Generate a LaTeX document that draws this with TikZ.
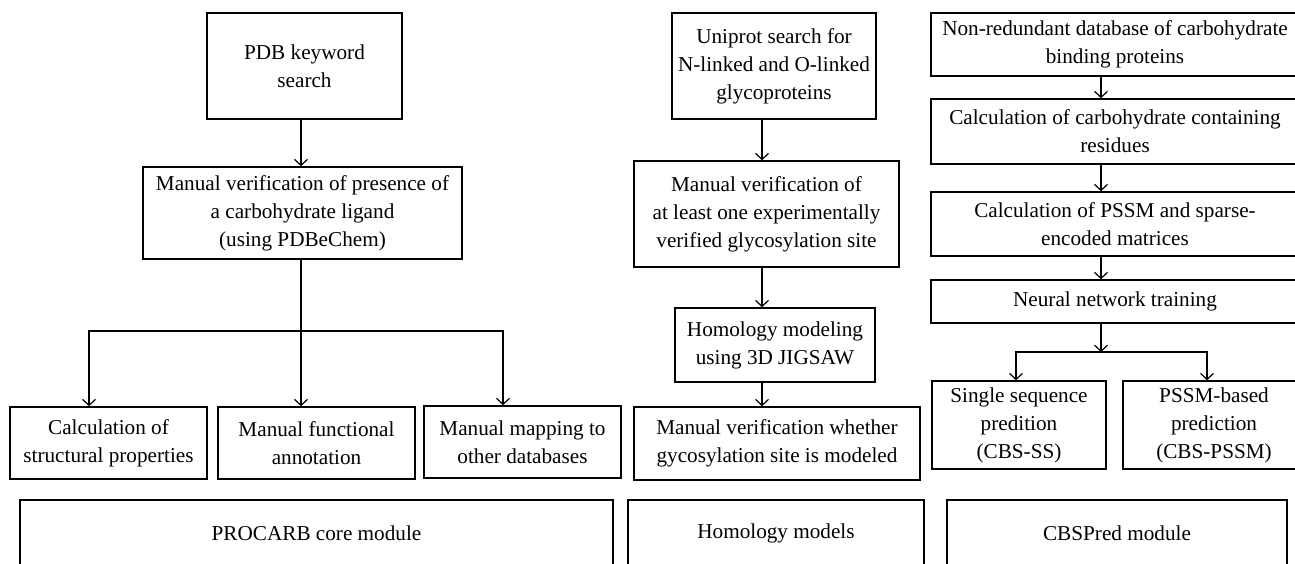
\documentclass[tikz,border=0pt]{standalone}
\usepackage{fontspec}
\setmainfont{Liberation Serif}
\usetikzlibrary{arrows.meta}

\begin{document}
\begin{tikzpicture}[x=0.5pt, y=-0.5pt, >={Straight Barb[length=3pt,width=6.5pt]},
		font=\fontsize{10.6}{14}\selectfont,
		box/.style={draw, line width=0.8pt, align=center, inner sep=0pt},
		link/.style={->, line width=0.6pt}]
		% Frame
		\useasboundingbox (0,0) rectangle (1295,563);
		\clip (0,0) rectangle (1295,563);

		% PROCARB core module
		\node[box, minimum width=97.5pt, minimum height=53pt] (pdb) at (304.5,66) {PDB keyword\\search};
		\node[box, minimum width=159.5pt, minimum height=46pt] (verif1) at (302.5,213) {Manual verification of presence of\\a carbohydrate ligand\\(using PDBeChem)};
		\node[box, minimum width=98.5pt, minimum height=36pt] (calc) at (108.5,443) {Calculation of\\structural properties};
		\node[box, minimum width=98.5pt, minimum height=36pt] (func) at (316.5,443) {Manual functional\\annotation};
		\node[box, minimum width=98.5pt, minimum height=36pt] (map) at (522.5,442) {Manual mapping to\\other databases};
		\node[box, minimum width=296.5pt, minimum height=33pt] (procarb) at (316.5,533) {PROCARB core module};

		\coordinate (split) at (301,331);
		\draw[link] (pdb.south -| split) -- (verif1.north -| split);
		\draw[line width=0.6pt] (verif1.south -| split) -- (split);
		\draw[link] (split) -| ([xshift=-9.75pt]calc.north);
		\draw[link] (split) -- (func.north -| split);
		\draw[link] (split) -| ([xshift=-9.75pt]map.north);

		% Homology models
		\node[box, minimum width=102pt, minimum height=53pt] (uniprot) at (774,66) {Uniprot search for\\N-linked and O-linked\\glycoproteins};
		\node[box, minimum width=132.5pt, minimum height=53pt] (verif2) at (766.5,214) {Manual verification of\\at least one experimentally\\verified glycosylation site};
		\node[box, minimum width=100pt, minimum height=37pt] (homol) at (775,345) {Homology modeling\\using 3D JIGSAW};
		\node[box, minimum width=143pt, minimum height=36.5pt] (whether) at (777,443.5) {Manual verification whether\\gycosylation site is modeled};
		\node[box, minimum width=148pt, minimum height=33pt] (hmodels) at (776,533) {Homology models};

		\coordinate (midx) at (762,0);
		\draw[link] (uniprot.south -| midx) -- (verif2.north -| midx);
		\draw[link] (verif2.south -| midx) -- (homol.north -| midx);
		\draw[link] (homol.south -| midx) -- (whether.north -| midx);

		% CBSPred module
		\node[box, minimum width=184pt, minimum height=31.5pt] (nonred) at (1115,44.5) {Non-redundant database of carbohydrate\\binding proteins};
		\node[box, minimum width=184pt, minimum height=32.5pt] (calc2) at (1115,131.5) {Calculation of carbohydrate containing\\residues};
		\node[box, minimum width=184pt, minimum height=32pt] (pssm) at (1115,224) {Calculation of PSSM and sparse-\\encoded matrices};
		\node[box, minimum width=184pt, minimum height=21.5pt] (neural) at (1115,301.5) {Neural network training};
		\node[box, minimum width=87pt, minimum height=44pt] (single) at (1019,425) {Single sequence\\predition\\(CBS-SS)};
		\node[box, minimum width=91pt, minimum height=44pt] (pssmpred) at (1214,425) {PSSM-based\\prediction\\(CBS-PSSM)};
		\node[box, minimum width=170pt, minimum height=33pt] (cbspred) at (1117,533) {CBSPred module};

		\coordinate (rightx) at (1101,0);
		\coordinate (fork) at (1101,352);
		\draw[link] (nonred.south -| rightx) -- (calc2.north -| rightx);
		\draw[link] (calc2.south -| rightx) -- (pssm.north -| rightx);
		\draw[link] (pssm.south -| rightx) -- (neural.north -| rightx);
		\draw[link] (neural.south -| rightx) -- (fork);
		\draw[link] (fork) -| ([xshift=-1.5pt]single.north);
		\draw[link] (fork) -| ([xshift=-3.5pt]pssmpred.north);
	\end{tikzpicture}
\end{document}
